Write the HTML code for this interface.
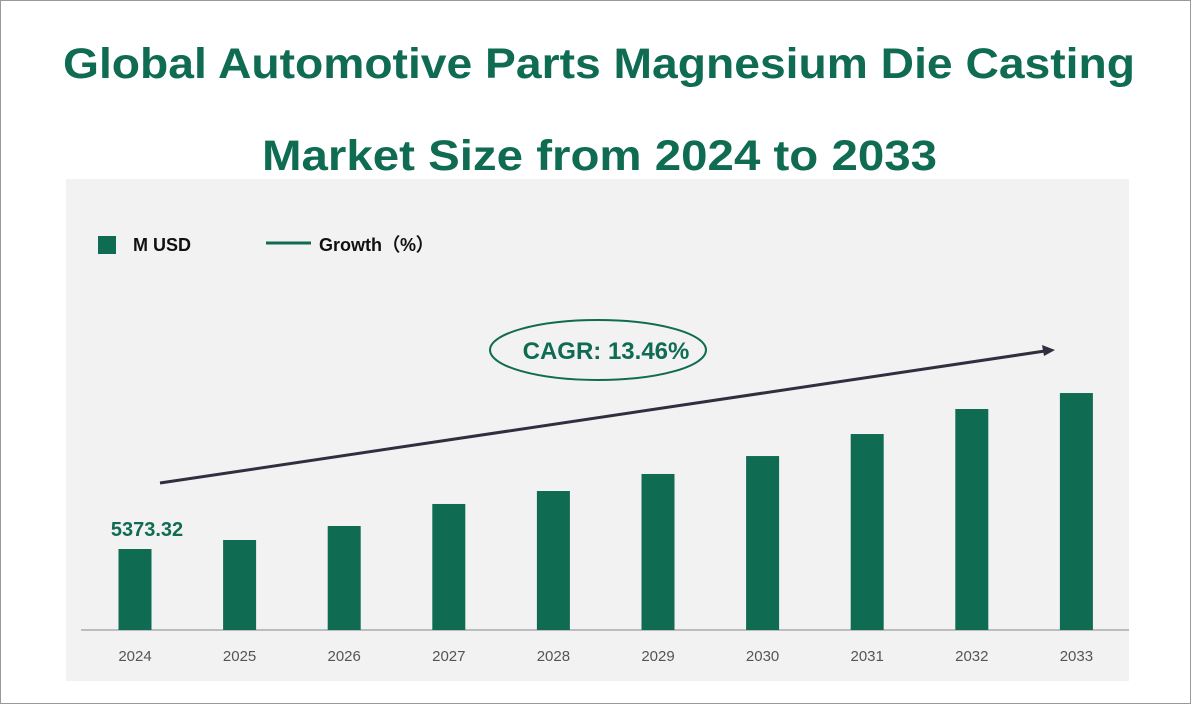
<!DOCTYPE html>
<html><head><meta charset="utf-8"><style>
body{margin:0;background:#fff;}
#wrap{position:relative;width:1189px;height:702px;border:1px solid #999;overflow:hidden;font-family:"Liberation Sans",sans-serif;}
</style></head><body>
<div id="wrap">
<svg id="chart" width="1189" height="702" style="position:absolute;left:0;top:0">
<text x="62" y="77" font-size="43" font-weight="bold" fill="#0f6b52" textLength="1072" lengthAdjust="spacingAndGlyphs">Global Automotive Parts Magnesium Die Casting</text>
<text x="261" y="169" font-size="43" font-weight="bold" fill="#0f6b52" textLength="675" lengthAdjust="spacingAndGlyphs">Market Size from 2024 to 2033</text>
<rect x="65" y="178" width="1063" height="502" fill="#f2f2f2"/>
<rect x="97" y="235" width="18" height="18" fill="#0f6b52"/>
<text x="132" y="250" font-size="18" font-weight="bold" fill="#111">M USD</text>
<line x1="265" y1="242" x2="310" y2="242" stroke="#0f6b52" stroke-width="3"/>
<text x="318" y="250" font-size="18" font-weight="bold" fill="#111">Growth（%）</text>
<line x1="80" y1="629" x2="1128" y2="629" stroke="#888" stroke-width="1"/>
<g id="bars"></g>
<line x1="159" y1="482" x2="1044" y2="350" stroke="#2f2f3f" stroke-width="3"/>
<polygon points="1054,349 1041,344 1043,355" fill="#2f2f3f"/>
<ellipse cx="597" cy="349" rx="108" ry="30" fill="none" stroke="#0f6b52" stroke-width="2"/>
<text x="605" y="358" text-anchor="middle" font-size="24" font-weight="bold" fill="#0f6b52">CAGR: 13.46%</text>
</svg>
</div>
<script>
const years=["2024","2025","2026","2027","2028","2029","2030","2031","2032","2033"];
const values=[5373.32,5970,6900,8360,9220,10350,11540,13000,14660,15720];
const labelIdx=[0];
const NS="http://www.w3.org/2000/svg";
const g=document.getElementById('bars');
const base=629, x0=134, step=104.6, bw=33;
const yScale=v=>v*(81/5373.32);
years.forEach((yr,i)=>{
  const cx=x0+i*step, h=yScale(values[i]);
  const r=document.createElementNS(NS,'rect');
  r.setAttribute('x',cx-bw/2);r.setAttribute('y',base-h);r.setAttribute('width',bw);r.setAttribute('height',h);r.setAttribute('fill','#0f6b52');
  
  
  g.appendChild(r);
  const t=document.createElementNS(NS,'text');
  t.setAttribute('x',cx);t.setAttribute('y',660);t.setAttribute('text-anchor','middle');t.setAttribute('font-size','15');t.setAttribute('fill','#555');
  t.textContent=yr;
  
  
  g.appendChild(t);
  if(labelIdx.includes(i)){
    const v=document.createElementNS(NS,'text');
    v.setAttribute('x',cx+12);v.setAttribute('y',base-h-13);v.setAttribute('text-anchor','middle');v.setAttribute('font-size','20');v.setAttribute('font-weight','bold');v.setAttribute('fill','#0f6b52');
    v.textContent=values[i].toFixed(2);
    
    
    g.appendChild(v);
  }
});
</script>
</body></html>
